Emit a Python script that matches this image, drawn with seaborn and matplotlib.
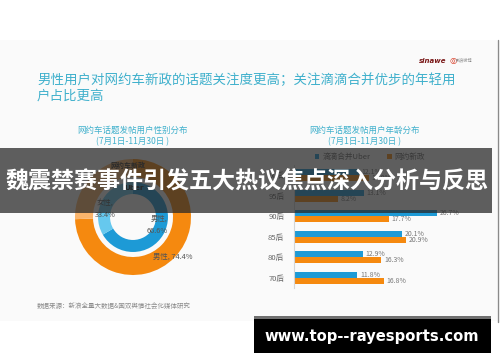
import matplotlib
matplotlib.use("Agg")
import matplotlib.pyplot as plt
from matplotlib.patches import Rectangle
from matplotlib.lines import Line2D
import seaborn as sns
import pandas as pd

# ---------------- data ----------------
ages = ['00后', '95后', '90后', '85后', '80后', '70后']
series_names = ['滴滴合并Uber', '网约新政']
uber_age = [12.1, 13.1, 26.7, 20.1, 12.9, 11.8]
policy_age = [14.0, 8.2, 17.7, 20.9, 16.3, 16.8]

genders = ['男性', '女性']
uber_gender = [66.6, 33.4]
policy_gender = [74.4, 25.6]

title_text = '男性用户对网约车新政的话题关注度更高；关注滴滴合并优步的年轻用\n户占比更高'
left_sub = '网约车话题发帖用户性别分布\n(7月1日-11月30日 )'
right_sub = '网约车话题发帖用户年龄分布\n(7月1日-11月30日 )'
source_text = '数据来源：新浪全量大数据&国双舆情社会化媒体研究'
banner_text = '魏震禁赛事件引发五大热议焦点深入分析与反思'
watermark = 'www.top--rayesports.com'

# ---------------- style ----------------
sns.set_theme(style='white')
plt.rcParams['font.family'] = ['Noto Sans CJK SC', 'DejaVu Sans']

BLUE = '#1d9ad6'
LIGHT_BLUE = '#66c8ee'
ORANGE = '#f5890f'
LIGHT_ORANGE = '#f9b46c'
TEAL = '#3fb0cc'
GRAY = '#666666'

W, H = 500, 362
fig = plt.figure(figsize=(W / 100, H / 100), dpi=100)
fig.patch.set_facecolor('white')


def fx(x):
    return x / W


def fy(y):
    return 1 - y / H


# slide background
fig.add_artist(Rectangle((fx(0), fy(321)), fx(497), fy(40) - fy(321),
                         transform=fig.transFigure, facecolor='#fafafa',
                         edgecolor='none', zorder=-2))
fig.add_artist(Line2D([fx(497.5), fx(497.5)], [fy(40), fy(322)],
                      transform=fig.transFigure, color='#8a8a8a', lw=1, zorder=-1))

# title
fig.text(fx(37), fy(88), title_text, color=TEAL, fontsize=9.7,
         ha='left', va='center', linespacing=1.2)

# logos
fig.text(fx(433), fy(61), 'sinawe', color='#7a1818', fontsize=5,
         fontweight='bold', style='italic', ha='center', va='center',
         family=['DejaVu Sans'])
fig.text(fx(453), fy(60), '◎', color='#d6331c', fontsize=6,
         ha='center', va='center', family=['DejaVu Sans'])
fig.text(fx(464), fy(60), '新浪微博', color='#888888', fontsize=3,
         ha='center', va='center')

# subtitles
fig.text(fx(132), fy(136), left_sub, color=TEAL, fontsize=6.1,
         ha='center', va='center', linespacing=1.25)
fig.text(fx(364), fy(136), right_sub, color=TEAL, fontsize=6.1,
         ha='center', va='center', linespacing=1.25)

# source
fig.text(fx(37), fy(306), source_text, color='#8a8a8a', fontsize=4.7,
         ha='left', va='center')

# ---------------- donut ----------------
cx, cy, R = 133, 217, 58
axd = fig.add_axes([fx(cx - R), fy(cy + R), 2 * R / W, 2 * R / H])
axd.set_facecolor('none')
axd.pie(policy_gender, radius=1.0, colors=[ORANGE, LIGHT_ORANGE],
        startangle=90, counterclock=False,
        wedgeprops=dict(width=0.31, linewidth=0))
axd.pie(uber_gender, radius=0.603, colors=[BLUE, LIGHT_BLUE],
        startangle=90, counterclock=False,
        wedgeprops=dict(width=0.207, linewidth=0))
axd.set_xlim(-1, 1)
axd.set_ylim(-1, 1)
axd.set_aspect('auto')
axd.axis('off')


def dpos(x, y):
    return (x - cx) / R, (cy - y) / R


lab_kw = dict(fontsize=5.3, color='#555555', va='center')
axd.text(*dpos(128, 165), '网约车新政', ha='center', fontsize=5,
         color='#333333', fontweight='bold', va='center')
axd.text(*dpos(134, 188), 'Uber', ha='center', fontsize=5.2,
         color='#222222', fontweight='bold', va='center', family=['DejaVu Sans'])
axd.text(*dpos(97, 203), f'{genders[1]},', ha='left', **lab_kw)
axd.text(*dpos(95, 215), f'{uber_gender[1]:.1f}%', ha='left', **lab_kw)
axd.text(*dpos(151, 219), f'{genders[0]},', ha='left', **lab_kw)
axd.text(*dpos(147, 231), f'{uber_gender[0]:.1f}%', ha='left', **lab_kw)
axd.text(*dpos(153, 257), f'{genders[0]}, {policy_gender[0]:.1f}%', ha='left', **lab_kw)

# ---------------- bars ----------------
df = pd.DataFrame({
    'age': ages * 2,
    'value': uber_age + policy_age,
    'series': [series_names[0]] * len(ages) + [series_names[1]] * len(ages),
})

x0, ppu = 294, 5.35
y_top, y_bot = 164.7, 288.3
axb = fig.add_axes([fx(x0), fy(y_bot), 30 * ppu / W, (y_bot - y_top) / H])
axb.set_facecolor('none')
sns.barplot(data=df, y='age', x='value', hue='series', order=ages,
            hue_order=series_names, palette=[BLUE, ORANGE], orient='h',
            width=0.58, saturation=1, linewidth=0, ax=axb)
axb.set_xlim(0, 30)
axb.set_ylim(len(ages) - 0.5, -0.5)
for cont in axb.containers:
    axb.bar_label(cont, fmt='{:.1f}%', padding=2, fontsize=5, color='#777777')
axb.set_xlabel('')
axb.set_ylabel('')
axb.set_xticks([])
axb.tick_params(axis='y', length=0, pad=7, labelsize=5.5, labelcolor=GRAY)
for s in ['top', 'right', 'bottom']:
    axb.spines[s].set_visible(False)
axb.spines['left'].set_color('#d5d5d5')
axb.spines['left'].set_linewidth(0.8)
axb.legend(loc='center', bbox_to_anchor=(fx(370), fy(157)),
           bbox_transform=fig.transFigure, ncol=2, frameon=False,
           fontsize=5.5, handlelength=0.6, handleheight=0.6,
           handletextpad=0.4, columnspacing=2.2, labelcolor=GRAY)

# ---------------- overlay banner ----------------
fig.add_artist(Rectangle((fx(0), fy(213)), fx(492), fy(148) - fy(213),
                         transform=fig.transFigure, facecolor='#282828',
                         alpha=0.74, edgecolor='none', zorder=5))
fig.text(fx(247.5), fy(182), banner_text, color='white', fontsize=16.6,
         fontweight='bold', ha='center', va='center', zorder=6)

# ---------------- watermark box ----------------
fig.add_artist(Rectangle((fx(254), fy(353)), fx(491) - fx(254), fy(316) - fy(353),
                         transform=fig.transFigure, facecolor='#000000',
                         edgecolor='none', zorder=5))
fig.add_artist(Rectangle((fx(254), fy(319)), fx(491) - fx(254), fy(316) - fy(319),
                         transform=fig.transFigure, facecolor='#707070',
                         edgecolor='none', zorder=5))
fig.text(fx(372), fy(336), watermark, color='white', fontsize=10.6,
         fontweight='bold', ha='center', va='center', zorder=6,
         family=['DejaVu Sans'])

fig.savefig('out.png', dpi=100)
